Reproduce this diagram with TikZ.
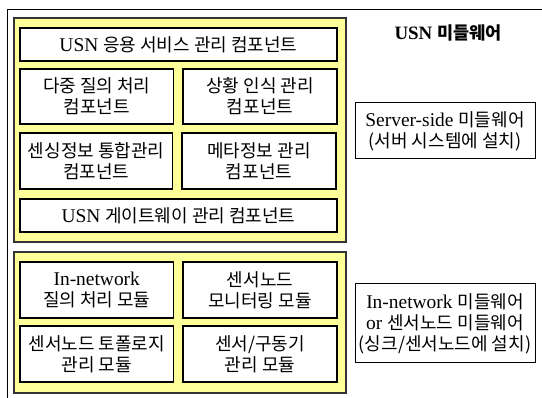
\documentclass[tikz,border=0pt]{standalone}
\usepackage{fontspec}
\setmainfont[Scale=1.08]{Liberation Serif}
\newfontfamily\kr{Noto Sans CJK KR}
\begin{document}
\begin{tikzpicture}[x=1pt,y=-1pt,
  yellowbox/.style={draw=black!80, line width=1.3pt, fill=myyellow},
  inbox/.style={draw=black, line width=1.2pt, fill=white, align=center, inner sep=0pt,
    font=\fontsize{18}{21}\selectfont},
  sidebox/.style={draw=black, line width=1pt, fill=white, align=center, inner sep=0pt,
    font=\fontsize{18}{21}\selectfont},
]
\definecolor{myyellow}{RGB}{255,255,153}
\useasboundingbox (0,0) rectangle (542,398);
% outer frame (left and top only visible)
\draw[line width=0.9pt] (7,400) -- (7,9) -- (544,9);
% yellow group boxes
\draw[yellowbox] (14,18) rectangle (346,242);
\draw[yellowbox] (14,252) rectangle (346,393);
% top group
\node[inbox, minimum width=317pt, minimum height=33pt] (app) at (178.5,44.5)
  {USN {\kr 응용 서비스 관리 컴포넌트}};
\node[inbox, minimum width=153.5pt, minimum height=55pt] (multi) at (96.75,96.5)
  {{\kr 다중 질의 처리}\\{\kr 컴포넌트}};
\node[inbox, minimum width=154pt, minimum height=55pt] (context) at (260,96.5)
  {{\kr 상황 인식 관리}\\{\kr 컴포넌트}};
\node[inbox, minimum width=152.5pt, minimum height=56pt] (sensing) at (96.25,161)
  {{\kr 센싱정보 통합관리}\\{\kr 컴포넌트}};
\node[inbox, minimum width=154pt, minimum height=56pt] (meta) at (259,161)
  {{\kr 메타정보 관리}\\{\kr 컴포넌트}};
\node[inbox, minimum width=317pt, minimum height=33pt] (gateway) at (178.5,215.5)
  {USN {\kr 게이트웨이 관리 컴포넌트}};
% bottom group
\node[inbox, minimum width=153.5pt, minimum height=56pt] (query) at (96.75,290)
  {In-network\\{\kr 질의 처리 모듈}};
\node[inbox, minimum width=154pt, minimum height=56pt] (monitor) at (260,290)
  {{\kr 센서노드}\\{\kr 모니터링 모듈}};
\node[inbox, minimum width=153.5pt, minimum height=56pt] (topology) at (96.75,354)
  {{\kr 센서노드 토폴로지}\\{\kr 관리 모듈}};
\node[inbox, minimum width=154pt, minimum height=56pt] (actuator) at (260,354)
  {{\kr 센서/구동기}\\{\kr 관리 모듈}};
% right side
\node[font=\fontsize{17.5}{20}\selectfont\bfseries] (title) at (448,33) {USN {\kr 미들웨어}};
\node[sidebox, minimum width=180pt, minimum height=56pt] (server) at (445,131)
  {Server-side {\kr 미들웨어}\\{\kr (서버 시스템에 설치)}};
\node[sidebox, minimum width=180pt, minimum height=79pt] (innet) at (445,323.5)
  {In-network {\kr 미들웨어}\\or {\kr 센서노드 미들웨어}\\{\kr (싱크/센서노드에 설치)}};
\end{tikzpicture}
\end{document}
